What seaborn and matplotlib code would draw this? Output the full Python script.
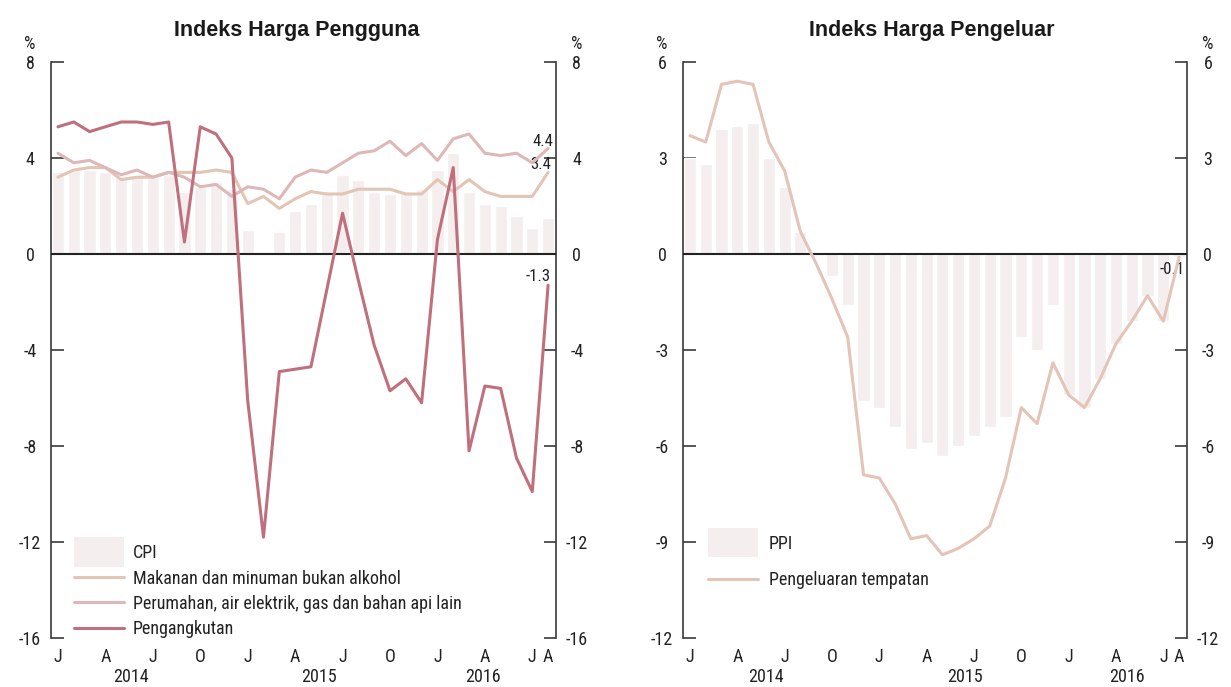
import matplotlib
matplotlib.use("Agg")
import matplotlib.pyplot as plt
from matplotlib import font_manager
from matplotlib.patches import Patch, Rectangle
from matplotlib.lines import Line2D
from matplotlib.legend_handler import HandlerPatch
from matplotlib.transforms import offset_copy, blended_transform_factory
import numpy as np
import pandas as pd
import seaborn as sns

# Monthly series, Jan 2014 - Aug 2016 (annual % change)
months = pd.date_range("2014-01-01", "2016-08-01", freq="MS")

cpi = [3.4, 3.5, 3.5, 3.4, 3.2, 3.3, 3.2, 3.3, 2.6, 2.8, 3.0, 2.7,
       1.0, 0.1, 0.9, 1.8, 2.1, 2.5, 3.3, 3.1, 2.6, 2.5, 2.6, 2.7,
       3.5, 4.2, 2.6, 2.1, 2.0, 1.6, 1.1, 1.5]
makanan = [3.2, 3.5, 3.6, 3.6, 3.1, 3.2, 3.2, 3.4, 3.4, 3.4, 3.5, 3.4,
           2.1, 2.4, 1.9, 2.3, 2.6, 2.5, 2.5, 2.7, 2.7, 2.7, 2.5, 2.5,
           3.1, 2.6, 3.1, 2.6, 2.4, 2.4, 2.4, 3.4]
perumahan = [4.2, 3.8, 3.9, 3.6, 3.3, 3.5, 3.2, 3.4, 3.2, 2.8, 2.9, 2.4,
             2.8, 2.7, 2.3, 3.2, 3.5, 3.4, 3.8, 4.2, 4.3, 4.7, 4.1, 4.6,
             3.9, 4.8, 5.0, 4.2, 4.1, 4.2, 3.8, 4.4]
pengangkutan = [5.3, 5.5, 5.1, 5.3, 5.5, 5.5, 5.4, 5.5, 0.5, 5.3, 5.0, 4.0,
                -6.1, -11.8, -4.9, -4.8, -4.7, -1.5, 1.7, -1.1, -3.8, -5.7, -5.2, -6.2,
                0.6, 3.6, -8.2, -5.5, -5.6, -8.5, -9.9, -1.3]

ppi = [3.0, 2.8, 3.9, 4.0, 4.1, 3.0, 2.1, 0.7, 0.0, -0.7, -1.6, -4.6,
       -4.8, -5.4, -6.1, -5.9, -6.3, -6.0, -5.7, -5.4, -5.1, -2.6, -3.0, -1.6,
       -4.4, -4.8, -3.9, -2.8, -2.1, -1.3, -2.1, -0.1]
pengeluaran = [3.7, 3.5, 5.3, 5.4, 5.3, 3.5, 2.6, 0.7, -0.3, -1.4, -2.6, -6.9,
               -7.0, -7.8, -8.9, -8.8, -9.4, -9.2, -8.9, -8.5, -7.0, -4.8, -5.3, -3.4,
               -4.4, -4.8, -3.9, -2.8, -2.1, -1.3, -2.1, -0.1]

month_letters = ["J", "A", "J", "O", "J", "A", "J", "O", "J", "A", "J", "A"]
month_ticks = [0, 3, 6, 9, 12, 15, 18, 21, 24, 27, 30, 31]
years = ["2014", "2015", "2016"]

left_yticks = [8, 4, 0, -4, -8, -12, -16]
right_yticks = [6, 3, 0, -3, -6, -9, -12]

BAR = "#F5EEEE"
C_FOOD = "#E3C5B6"
C_HOUSE = "#DEB8B8"
C_TRANS = "#C06F7C"
C_PROD = "#E3C4B6"
SPINE = "#3A3A3A"

sns.set_theme(style="white")

# Prefer a condensed sans face for the body text
fm = font_manager.fontManager
names = {f.name for f in fm.ttflist}
COND_STRETCH = ("condensed", "semi-condensed", "extra-condensed", "ultra-condensed")
body_family, body_stretch = None, "normal"
for cand in ["Liberation Sans Narrow", "Arial Narrow", "Roboto Condensed",
             "Open Sans Condensed", "Noto Sans Condensed", "DejaVu Sans Condensed",
             "Nimbus Sans Narrow"]:
    if cand in names:
        body_family = cand
        break
if body_family is None:
    for fam in ["Roboto", "Noto Sans", "Open Sans", "Inter"]:
        hits = [f for f in fm.ttflist if f.name == fam and f.style == "normal"
                and (f.stretch in COND_STRETCH
                     or (isinstance(f.stretch, (int, float)) and f.stretch < 500))]
        if hits:
            body_family, body_stretch = fam, hits[0].stretch
            break
if body_family is None:
    body_family = "Liberation Sans"
    FS = 11.2
else:
    FS = 13.0

plt.rcParams["font.family"] = [body_family, "DejaVu Sans"]
plt.rcParams["font.stretch"] = body_stretch
plt.rcParams["text.color"] = "#222222"
LFS = FS * 12.5 / 13.5

idx = np.arange(len(months))


class TallPatch(HandlerPatch):
    """Legend swatch taller than the text row."""
    def create_artists(self, legend, orig_handle, xdescent, ydescent,
                       width, height, fontsize, trans):
        h = 21
        r = Rectangle((-xdescent, -ydescent + height / 2 - h / 2), width, h,
                      facecolor=orig_handle.get_facecolor(), edgecolor="none",
                      transform=trans)
        return [r]


def style_axis(ax, yticks, year_pos):
    ax.set_xlim(-0.44, 31.5)
    ax.set_ylim(min(yticks), max(yticks))
    ax.set_yticks(yticks)
    ax.set_yticklabels([f"{t:g}" for t in yticks])
    for s in ["top", "bottom"]:
        ax.spines[s].set_visible(False)
    for s in ["left", "right"]:
        ax.spines[s].set_visible(True)
        ax.spines[s].set_color(SPINE)
        ax.spines[s].set_linewidth(1.2)
    ax.tick_params(axis="y", which="major", direction="in", length=9, width=1.2,
                   color=SPINE, left=True, right=True, labelleft=True,
                   labelright=True, labelsize=FS, pad=15, labelcolor="#222222")
    for t in ax.yaxis.get_major_ticks():
        t.label1.set_ha("center")
        t.label2.set_ha("center")
    ax.set_xticks(month_ticks)
    ax.set_xticklabels(month_letters)
    ax.tick_params(axis="x", length=0, labelsize=FS, pad=7, labelcolor="#222222")
    ax.set_xlabel("")
    ax.set_ylabel("")
    ax.axhline(0, color="#222222", lw=1.5, zorder=3)
    tr = blended_transform_factory(ax.transData, ax.transAxes)
    for yr, xp in zip(years, year_pos):
        ax.text(xp, -0.068, yr, transform=tr, ha="center", va="center",
                fontsize=FS, color="#222222")
    fig = ax.figure
    ax.text(0, 1, "%", transform=offset_copy(ax.transAxes, fig, x=-15, y=13, units="points"),
            ha="center", va="center", fontsize=FS)
    ax.text(1, 1, "%", transform=offset_copy(ax.transAxes, fig, x=15, y=13, units="points"),
            ha="center", va="center", fontsize=FS)


fig = plt.figure(figsize=(12.31, 6.87), dpi=100)
axL = fig.add_axes([51 / 1231, 1 - 638 / 687, 505 / 1231, 576 / 687])
axR = fig.add_axes([683 / 1231, 1 - 638 / 687, 504 / 1231, 576 / 687])

# Consumer prices
sns.barplot(x=idx, y=cpi, ax=axL, color=BAR, saturation=1, width=0.77,
            native_scale=True, zorder=1)
sns.lineplot(x=idx, y=makanan, ax=axL, color=C_FOOD, lw=2.2, zorder=4)
sns.lineplot(x=idx, y=perumahan, ax=axL, color=C_HOUSE, lw=2.2, zorder=4)
sns.lineplot(x=idx, y=pengangkutan, ax=axL, color=C_TRANS, lw=2.2, zorder=5)
style_axis(axL, left_yticks, [4.6, 16.5, 26.9])

lab_kw = dict(textcoords="offset points", ha="center", va="center", fontsize=LFS)
axL.annotate(f"{perumahan[-1]:.1f}", xy=(idx[-1], perumahan[-1]), xytext=(-4, 5), **lab_kw)
axL.annotate(f"{makanan[-1]:.1f}", xy=(idx[-1], makanan[-1]), xytext=(-5, 6), **lab_kw)
axL.annotate(f"{pengangkutan[-1]:.1f}", xy=(idx[-1], pengangkutan[-1]), xytext=(-7, 6), **lab_kw)

handlesL = [Patch(facecolor=BAR, label="CPI"),
            Line2D([], [], color=C_FOOD, lw=2.2),
            Line2D([], [], color=C_HOUSE, lw=2.2),
            Line2D([], [], color=C_TRANS, lw=2.2)]
labelsL = ["CPI", "Makanan dan minuman bukan alkohol",
           "Perumahan, air elektrik, gas dan bahan api lain", "Pengangkutan"]
axL.legend(handlesL, labelsL, loc="lower left", bbox_to_anchor=(0.0455, 0.0),
           frameon=False, fontsize=FS, handlelength=36 / FS, handletextpad=6.5 / FS,
           labelspacing=5.2 / FS, borderpad=0, borderaxespad=0,
           handler_map={Patch: TallPatch()})

# Producer prices
sns.barplot(x=idx, y=ppi, ax=axR, color=BAR, saturation=1, width=0.77,
            native_scale=True, zorder=1)
sns.lineplot(x=idx, y=pengeluaran, ax=axR, color=C_PROD, lw=2.2, zorder=4)
style_axis(axR, right_yticks, [4.8, 17.4, 27.7])
axR.annotate(f"{pengeluaran[-1]:.1f}", xy=(idx[-1], pengeluaran[-1]), xytext=(-5, -9), **lab_kw)

handlesR = [Patch(facecolor=BAR), Line2D([], [], color=C_PROD, lw=2.2)]
axR.legend(handlesR, ["PPI", "Pengeluaran tempatan"], loc="lower left",
           bbox_to_anchor=(0.0496, 0.085), frameon=False, fontsize=FS,
           handlelength=36 / FS, handletextpad=8 / FS, labelspacing=13 / FS,
           borderpad=0, borderaxespad=0, handler_map={Patch: TallPatch()})

title_kw = dict(ha="center", va="baseline", fontsize=15.5, fontweight="bold",
                family=["Liberation Sans", "DejaVu Sans"], stretch="normal",
                color="#1a1a1a")
fig.text(297 / 1231, 1 - 36 / 687, "Indeks Harga Pengguna", **title_kw)
fig.text(932 / 1231, 1 - 36 / 687, "Indeks Harga Pengeluar", **title_kw)

fig.savefig("out.png", dpi=100)
